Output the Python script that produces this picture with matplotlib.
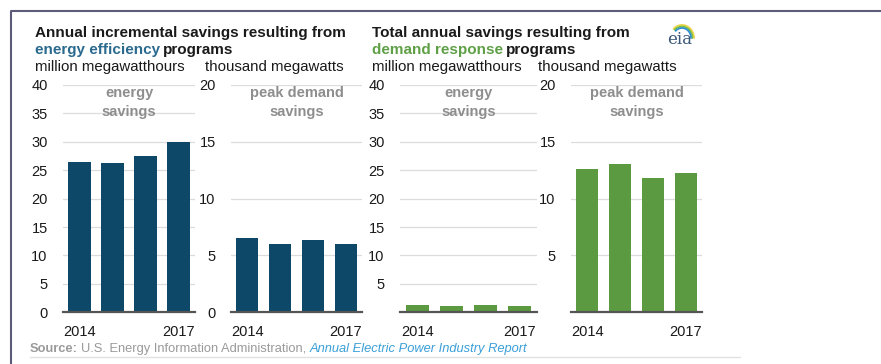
import numpy as np
import matplotlib
matplotlib.use("Agg")
import matplotlib.pyplot as plt
from matplotlib.lines import Line2D

plt.rcParams['font.family'] = ['Liberation Sans', 'DejaVu Sans']

years = [2014, 2015, 2016, 2017]
ee_energy = [26.5, 26.2, 27.5, 30.0]   # million MWh
ee_peak = [6.5, 6.0, 6.4, 6.0]         # thousand MW
dr_energy = [1.35, 1.1, 1.25, 1.1]     # million MWh
dr_peak = [12.65, 13.05, 11.8, 12.25]  # thousand MW

blue = '#0d4868'
green = '#5b9a40'
W, H = 881, 364

fig = plt.figure(figsize=(W / 100, H / 100), dpi=100)


def px_axes(x0, x1, ytop, ybot):
    return fig.add_axes([x0 / W, 1 - ybot / H, (x1 - x0) / W, (ybot - ytop) / H])


def panel(ax, vals, color, ymax, step, show_zero, note):
    x = np.arange(len(vals))
    ax.bar(x, vals, width=0.67, color=color, zorder=3)
    ax.set_xlim(-0.5, 3.5)
    ax.set_ylim(0, ymax)
    ticks = list(range(0 if show_zero else step, ymax + 1, step))
    ax.set_yticks(ticks)
    ax.set_yticklabels([str(t) for t in ticks])
    ax.set_xticks([0, 3])
    ax.set_xticklabels([str(years[0]), str(years[-1])])
    ax.tick_params(length=0, labelsize=10.5, colors='#1a1a1a')
    ax.tick_params(axis='y', pad=11)
    ax.tick_params(axis='x', pad=9)
    for t in ticks:
        if t > 0:
            ax.axhline(t, color='#dcdcdc', lw=0.9, zorder=1)
    for s in ax.spines.values():
        s.set_visible(False)
    ax.axhline(0, color='#555555', lw=1.6, zorder=4, clip_on=False)
    ax.text(0.5, 0.995, note, transform=ax.transAxes, ha='center', va='top',
            fontsize=10.5, fontweight='bold', color='#8e8e8e', linespacing=1.45,
            zorder=5)
    ax.patch.set_alpha(0)


ax1 = px_axes(63, 195, 85, 312.3)
panel(ax1, ee_energy, blue, 40, 5, True, 'energy\nsavings')
ax2 = px_axes(231, 362, 85, 312.3)
panel(ax2, ee_peak, blue, 20, 5, True, 'peak demand\nsavings')
ax3 = px_axes(400, 537, 85, 312.3)
panel(ax3, dr_energy, green, 40, 5, False, 'energy\nsavings')
ax4 = px_axes(571, 702, 85, 312.3)
panel(ax4, dr_peak, green, 20, 5, False, 'peak demand\nsavings')


def fx(p):
    return p / W


def fy(p):
    return 1 - p / H


def after(t, gap=0):
    fig.canvas.draw()
    return (t.get_window_extent().x1 + gap) / W


# headings
fig.text(fx(35), fy(33), 'Annual incremental savings resulting from',
         fontsize=11, fontweight='bold', va='center', color='#1a1a1a')
t = fig.text(fx(35), fy(50), 'energy efficiency', fontsize=11, fontweight='bold',
             va='center', color='#2a6a8e')
fig.text(after(t, 3), fy(50), 'programs', fontsize=11, fontweight='bold',
         va='center', color='#1a1a1a')

fig.text(fx(372), fy(33), 'Total annual savings resulting from',
         fontsize=11, fontweight='bold', va='center', color='#1a1a1a')
t = fig.text(fx(372), fy(50), 'demand response', fontsize=11, fontweight='bold',
             va='center', color='#5fa047')
fig.text(after(t, 3), fy(50), 'programs', fontsize=11, fontweight='bold',
         va='center', color='#1a1a1a')

for xp, s in [(35, 'million megawatthours'), (205, 'thousand megawatts'),
              (372, 'million megawatthours'), (538, 'thousand megawatts')]:
    fig.text(fx(xp), fy(67), s, fontsize=10.8, va='center', color='#1a1a1a')

# source line
t = fig.text(fx(30), fy(349), 'Source:', fontsize=9.3, fontweight='bold',
             va='center', color='#9a9a9a')
t = fig.text(after(t, 3), fy(349), 'U.S. Energy Information Administration, ',
             fontsize=9.3, va='center', color='#9a9a9a')
fig.text(after(t), fy(349), 'Annual Electric Power Industry Report',
         fontsize=9.3, style='italic', va='center', color='#3a9fd8')
fig.add_artist(Line2D([fx(30), fx(740)], [fy(357), fy(357)], color='#e2e2e2', lw=1))

# outer frame (left and top edges)
fig.add_artist(Line2D([fx(11), fx(11), fx(W)], [0, fy(11), fy(11)],
                      color='#5c5c7a', lw=1.5))

# eia logo
lg = px_axes(664, 704, 18, 48)
lg.set_xlim(0, 40)
lg.set_ylim(30, 0)
lg.axis('off')
lg.text(16, 26, 'eia', fontsize=12, family='DejaVu Serif', color='#3b5877',
        ha='center', va='baseline')
th = np.linspace(0.75 * np.pi, 0.0, 40)
for rx, ry, c in [(12, 13, '#f0d548'), (10.5, 11.5, '#7dbf4b'), (9, 10, '#2f8fd0')]:
    lg.plot(18 + rx * np.cos(th), 20 - ry * np.sin(th), color=c, lw=1.3,
            solid_capstyle='round')

fig.savefig('out.png', dpi=100)
